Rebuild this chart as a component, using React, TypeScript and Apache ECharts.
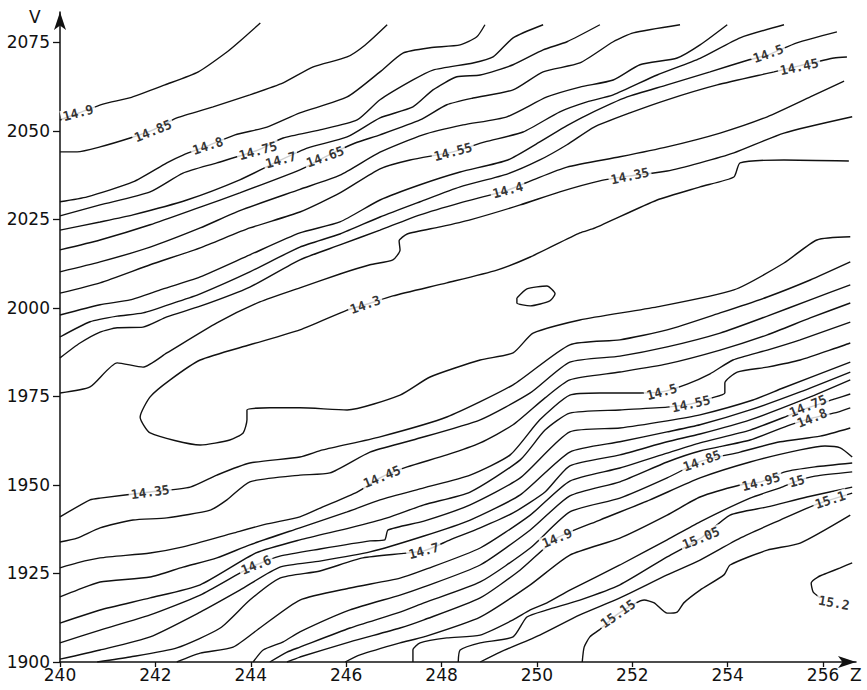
import { useEffect, useRef } from 'react';
import * as echarts from 'echarts';

const zTicks = [240, 242, 244, 246, 248, 250, 252, 254, 256];
const vTicks = [1900, 1925, 1950, 1975, 2000, 2025, 2050, 2075];

// upper family (Z, V)
const c1490 = [[240,2053.1],[240.4,2055.1],[240.9,2057.6],[241.5,2059.5],[242.2,2063.0],[242.9,2066.7],[243.5,2072.3],[243.8,2075.7],[244.2,2080.5]];
const c1485 = [[240,2044.1],[240.36,2044.1],[240.84,2045.5],[241.47,2048.0],[241.95,2050.3],[242.45,2053.7],[243.21,2056.8],[243.98,2060.2],[244.68,2063.6],[245.31,2068.1],[246.02,2070.9],[246.4,2074.3],[246.86,2080.0]];
const c1480 = [[240,2030.0],[240.57,2031.4],[241.53,2035.6],[242.24,2041.0],[242.58,2043.2],[243.1,2045.8],[243.67,2048.9],[244.34,2051.1],[245.03,2055.1],[246.02,2059.6],[246.71,2066.7],[247.19,2072.0],[247.76,2073.5],[248.39,2074.3],[248.74,2076.6],[248.91,2080.0]];
const c1475 = [[240,2026.0],[240.84,2029.1],[241.89,2032.8],[242.58,2038.1],[243.29,2041.0],[244.15,2044.6],[244.68,2048.0],[245.45,2050.3],[246.23,2053.1],[246.71,2058.8],[247.4,2064.4],[247.82,2067.2],[248.66,2069.2],[249.08,2070.9],[249.5,2076.3],[250.13,2080.0]];
const c1470 = [[240,2022.0],[240.84,2024.3],[241.53,2026.3],[242.66,2030.5],[243.77,2036.2],[244.63,2041.8],[245.2,2045.2],[246.02,2048.3],[246.71,2053.7],[247.4,2056.8],[247.82,2061.6],[248.32,2065.3],[248.81,2065.8],[249.5,2068.7],[250.13,2072.9],[250.63,2075.2],[251.32,2080.0]];
const c1465 = [[240,2016.4],[240.84,2019.2],[241.89,2023.5],[242.94,2028.5],[243.77,2032.5],[245.03,2039.0],[245.56,2042.7],[246.19,2046.6],[246.71,2048.9],[247.55,2053.1],[248.11,2057.4],[248.66,2059.3],[249.5,2061.6],[250.13,2066.7],[250.9,2069.2],[251.6,2075.2],[252.02,2077.7],[253.0,2080.0]];
const c1460 = [[240,2010.2],[240.84,2013.0],[241.89,2017.2],[242.94,2022.6],[243.77,2027.5],[245.03,2033.5],[245.87,2037.5],[246.71,2044.0],[247.61,2048.9],[248.45,2051.7],[249.37,2054.0],[250.21,2059.6],[250.9,2062.4],[251.6,2064.4],[252.16,2068.7],[252.94,2070.6],[253.42,2074.3],[253.99,2080.0]];
const c1455 = [[240,2004.2],[240.84,2007.1],[241.89,2012.2],[242.94,2017.0],[243.98,2022.6],[245.03,2027.1],[245.87,2032.5],[246.71,2039.3],[247.34,2041.8],[248.24,2044.1],[248.91,2046.9],[249.71,2049.7],[250.48,2055.4],[251.05,2058.2],[251.6,2060.2],[252.52,2065.8],[253.42,2070.5],[254.26,2076.3],[255.18,2080.0]];
const c1450 = [[240,1998.0],[240.84,2000.9],[241.47,2002.3],[242.1,2005.1],[242.94,2008.8],[243.98,2015.0],[245.03,2021.2],[245.87,2024.3],[246.71,2030.5],[247.55,2034.8],[248.39,2038.4],[249.39,2041.8],[250.06,2046.9],[250.63,2051.5],[251.05,2054.5],[251.89,2059.6],[252.73,2063.0],[253.63,2066.7],[254.45,2070.1],[254.85,2071.5],[255.45,2074.9],[256.29,2078.0]];
const c1445 = [[240,1991.8],[240.63,1996.1],[241.2,1997.7],[241.74,1998.6],[242.45,2001.7],[242.94,2004.0],[243.98,2010.2],[245.03,2017.2],[245.87,2020.9],[246.71,2025.7],[247.55,2030.0],[248.39,2034.2],[249.39,2037.9],[250.06,2041.8],[250.63,2046.1],[251.2,2051.1],[251.95,2055.1],[252.73,2058.8],[253.78,2063.0],[254.97,2066.7],[255.5,2068.4],[256.23,2070.6],[256.5,2070.9]];
const c1440 = [[240,1985.9],[240.42,1990.1],[240.84,1993.2],[241.2,1994.4],[241.74,1994.6],[242.24,1997.5],[242.94,2000.5],[243.98,2005.9],[245.03,2013.6],[245.87,2017.8],[246.71,2022.0],[247.55,2026.3],[248.39,2029.7],[249.39,2033.3],[249.92,2036.2],[250.63,2039.8],[251.74,2042.7],[252.73,2045.5],[253.84,2049.4],[254.83,2054.0],[255.73,2059.6],[256.44,2064.1]];
const c1435a = [[240,1976.0],[240.63,1977.7],[241.2,1984.5],[241.74,1983.3],[242.24,1987.3],[243.29,1995.8],[244.19,2001.7],[245.03,2005.7],[245.87,2009.6],[246.5,2012.2],[246.98,2013.6],[247.13,2016.4],[247.11,2018.9],[247.28,2020.9],[247.97,2022.9],[248.6,2024.9],[249.65,2029.1],[250.48,2032.8],[251.32,2035.9],[251.95,2037.3],[252.73,2038.7],[253.42,2041.0],[254.13,2043.8],[255.18,2049.4],[256.61,2054.0]];
const c1430 = [[256.54,2041.5],[255.18,2041.8],[254.26,2041.0],[254.13,2037.0],[253.42,2034.2],[252.52,2030.5],[251.22,2022.6],[250.9,2021.2],[249.86,2014.4],[249.16,2010.7],[248.11,2007.1],[246.98,2003.4],[246.4,2000.9],[246.02,1999.4],[245.03,1993.8],[243.98,1989.6],[242.94,1985.3],[242.31,1979.7],[241.89,1974.9],[241.68,1969.2],[241.89,1964.7],[242.94,1961.3],[243.56,1962.7],[243.84,1964.7],[243.92,1968.4],[243.92,1971.2],[244.4,1971.8],[245.03,1971.8],[246.02,1971.2],[247.13,1975.4],[247.76,1980.5],[248.81,1985.3],[249.5,1987.3],[249.92,1992.9],[250.9,1996.6],[252.52,2000.3],[254.13,2005.1],[255.18,2012.7],[255.87,2019.2],[256.57,2020.1]];
const c1425 = [[249.58,2002.8],[249.79,2005.4],[250.21,2006.2],[250.38,2004.0],[250.27,2002.0],[249.86,2000.6],[249.58,2001.4],[249.58,2002.8]];

// lower family (Z, V)
const c1435b = [[240,1941.0],[240.63,1945.8],[240.84,1946.3],[241.89,1948.0],[242.73,1949.4],[243.29,1952.8],[243.98,1956.2],[245.03,1957.9],[245.51,1959.9],[246.71,1963.6],[248.11,1969.2],[249.5,1978.3],[250.69,1989.6],[251.74,1991.0],[252.73,1993.8],[253.84,1998.6],[254.83,2003.1],[255.73,2007.9],[256.57,2013.0]];
const c1440b = [[240,1933.9],[240.36,1935.0],[240.84,1937.9],[241.53,1940.1],[242.24,1940.7],[243.15,1942.9],[243.5,1945.8],[243.98,1950.9],[245.03,1952.8],[245.66,1953.4],[246.5,1959.3],[247.4,1962.7],[248.81,1968.4],[249.86,1976.0],[250.69,1984.7],[251.74,1986.4],[252.73,1989.0],[253.84,1992.9],[254.83,1997.7],[255.73,2002.3],[256.57,2006.5]];
const c1445b = [[240,1926.6],[240.36,1928.0],[240.84,1929.4],[241.89,1930.8],[242.58,1932.5],[243.63,1936.4],[244.34,1939.0],[245.03,1941.0],[245.51,1943.8],[246.23,1948.0],[246.75,1952.3],[247.28,1955.1],[248.11,1958.5],[248.81,1961.9],[249.5,1967.0],[250.17,1974.6],[250.69,1979.7],[251.74,1981.9],[252.73,1984.2],[253.84,1988.1],[254.83,1992.4],[255.73,1997.2],[256.57,2001.4]];
const c1450b = [[240,1918.4],[240.36,1920.3],[240.84,1922.6],[241.89,1924.0],[242.58,1926.8],[243.29,1929.4],[243.98,1933.1],[245.03,1937.9],[246.02,1942.4],[246.71,1945.8],[247.63,1949.2],[248.6,1952.8],[249.44,1958.5],[250.06,1968.4],[250.69,1975.4],[251.32,1976.0],[252.16,1976.0],[252.62,1976.3],[253.15,1978.5],[253.63,1981.4],[254.11,1985.3],[254.83,1988.1],[255.52,1991.0],[256.57,1996.0]];
const c1455b = [[240,1911.0],[240.84,1914.7],[241.89,1918.1],[242.94,1921.8],[244.11,1930.8],[245.03,1934.5],[246.08,1937.9],[246.86,1940.7],[247.63,1944.4],[248.6,1948.0],[249.65,1957.1],[250.17,1965.5],[250.69,1970.3],[251.74,1971.2],[252.73,1972.0],[253.23,1972.9],[253.67,1974.6],[253.94,1976.0],[253.94,1978.8],[254.2,1981.9],[254.83,1983.3],[255.52,1985.3],[256.57,1990.1]];
const c1460b = [[240,1905.4],[240.84,1909.0],[241.89,1913.3],[242.94,1918.9],[243.77,1925.1],[244.11,1927.4],[244.61,1929.9],[245.45,1931.9],[246.5,1934.2],[246.81,1934.5],[246.88,1937.3],[247.63,1939.8],[248.6,1944.4],[249.65,1952.0],[250.69,1965.0],[251.74,1966.1],[252.73,1968.1],[253.42,1969.8],[254.53,1974.0],[255.16,1977.4],[256.57,1984.7]];
const c1465b = [[240,1900.8],[240.84,1903.4],[241.89,1907.1],[242.94,1914.1],[243.77,1920.3],[244.61,1926.8],[245.45,1928.5],[246.5,1931.1],[247.63,1935.6],[248.6,1940.1],[249.65,1947.2],[250.69,1959.3],[251.74,1962.2],[252.73,1965.0],[253.42,1967.0],[254.47,1971.2],[255.52,1976.3],[256.57,1981.9]];
const c1470b = [[240.78,1900],[241.47,1901.4],[242.45,1904.0],[243.36,1909.6],[243.98,1917.5],[244.61,1923.7],[245.45,1925.7],[246.35,1929.4],[247.63,1931.4],[248.18,1934.5],[248.81,1937.9],[249.5,1942.1],[250.17,1948.0],[250.69,1955.4],[251.74,1958.5],[252.73,1962.2],[253.42,1964.4],[254.47,1968.4],[255.68,1974.6],[256.57,1979.7]];
const c1475b = [[242.45,1900],[242.94,1902.5],[243.63,1904.2],[244.19,1909.6],[245.03,1917.5],[246.08,1920.9],[247.13,1923.7],[247.63,1926.0],[248.81,1932.2],[249.86,1941.5],[250.69,1951.1],[251.74,1954.8],[252.73,1959.0],[253.42,1961.9],[254.47,1965.5],[255.31,1969.8],[255.68,1971.8],[256.25,1974.3],[256.57,1975.7]];
const c1480b = [[244.05,1900],[244.26,1903.4],[244.68,1905.7],[245.03,1908.5],[246.08,1914.7],[247.13,1918.9],[247.63,1921.2],[248.81,1927.4],[249.86,1937.3],[250.69,1946.9],[251.74,1950.9],[252.73,1956.5],[253.42,1959.6],[254.47,1962.7],[255.31,1967.0],[255.77,1968.9],[256.31,1970.6],[256.57,1971.8]];
const c1485b = [[244.4,1900],[244.76,1902.8],[245.03,1904.2],[246.08,1909.6],[247.13,1914.1],[247.63,1916.7],[248.81,1922.6],[249.86,1932.2],[250.69,1942.4],[251.74,1946.3],[252.73,1952.0],[253.46,1956.8],[254.26,1959.3],[255.1,1962.2],[255.94,1963.8],[256.57,1966.1]];
const c1490b = [[244.76,1900],[245.03,1901.4],[246.08,1905.7],[247.13,1909.6],[247.63,1911.9],[248.81,1918.1],[249.65,1926.0],[250.42,1935.0],[251.32,1940.1],[252.37,1945.8],[253.42,1952.0],[254.47,1956.5],[255.52,1959.9],[256.04,1961.0],[256.36,1960.5],[256.61,1957.9]];
const c1495 = [[245.98,1900],[246.29,1902.0],[247.13,1905.4],[247.63,1907.1],[248.81,1912.7],[249.86,1921.8],[250.69,1930.2],[251.74,1935.0],[252.73,1941.5],[253.42,1946.6],[254.26,1950.0],[254.7,1950.9],[255.2,1953.7],[255.83,1955.1],[256.61,1956.2]];
const c1500 = [[247.4,1900],[247.4,1903.4],[247.55,1905.4],[248.11,1906.8],[248.81,1907.6],[249.5,1911.9],[249.86,1914.7],[250.21,1916.7],[250.69,1920.3],[251.74,1927.4],[252.73,1934.5],[253.42,1939.6],[254.47,1946.3],[255.1,1949.2],[255.45,1951.1],[255.83,1952.5],[256.61,1953.7]];
const c1505 = [[248.35,1900],[248.39,1903.4],[248.81,1905.4],[249.5,1907.1],[249.79,1912.7],[250.21,1914.7],[250.9,1917.5],[251.74,1921.8],[252.73,1929.7],[253.44,1935.0],[254.05,1941.5],[254.83,1943.8],[255.66,1946.6],[256.61,1949.4]];
const c1510 = [[248.81,1900],[249.23,1902.8],[250.06,1907.6],[250.9,1913.3],[251.74,1918.1],[252.73,1924.6],[253.42,1928.8],[254.26,1935.0],[255.1,1940.1],[255.83,1944.4],[256.15,1945.8],[256.61,1947.7]];
const c1515 = [[250.95,1900],[250.99,1904.2],[251.11,1907.1],[251.3,1909.0],[251.7,1913.6],[252.25,1917.5],[252.46,1916.7],[252.73,1913.8],[252.94,1914.1],[253.08,1916.7],[253.42,1920.3],[253.92,1924.6],[254.05,1927.4],[254.83,1931.6],[255.52,1933.6],[256.57,1941.5]];
const c1520 = [[255.94,1918.1],[255.79,1919.8],[255.75,1922.3],[255.89,1924.0],[256.08,1925.1],[256.36,1926.6],[256.61,1928.0]];

const contours = [
  c1490, c1485, c1480, c1475, c1470, c1465, c1460, c1455, c1450, c1445, c1440, c1435a, c1430, c1425,
  c1435b, c1440b, c1445b, c1450b, c1455b, c1460b, c1465b, c1470b, c1475b, c1480b, c1485b, c1490b,
  c1495, c1500, c1505, c1510, c1515, c1520,
];

const labelTexts = ['14.9','14.85','14.8','14.75','14.7','14.65','14.55','14.4','14.35','14.5','14.45','14.3',
  '14.35','14.45','14.6','14.7','14.9','14.5','14.55','14.75','14.8','14.85','14.95','15','15.05','15.1','15.15','15.2'];
const labelPoints = [[240.38,2055.1],[241.95,2050.0],[243.1,2045.8],[244.15,2044.4],[244.63,2041.8],[245.56,2042.7],[248.24,2044.1],[249.39,2033.3],[251.95,2037.3],[254.85,2071.8],[255.5,2068.1],[246.4,2000.9],
  [241.89,1948.0],[246.75,1952.3],[244.11,1927.4],[247.63,1931.4],[250.42,1935.0],[252.62,1976.3],[253.23,1972.9],[255.68,1972.3],[255.77,1968.9],[253.46,1956.8],[254.7,1950.9],[255.45,1951.1],[253.44,1935.0],[256.15,1945.8],[251.7,1913.6],[256.23,1916.7]];
const labelAngles = [15,22,18,15,15,20,15,15,12,20,12,20, 8,22,22,15,22,15,12,22,22,20,15,15,22,18,35,-10];

export default function App() {
  const ref = useRef<HTMLDivElement>(null);
  useEffect(() => {
    const chart = echarts.init(ref.current as HTMLDivElement, null, { renderer: 'svg' });
    const lineSeries = contours.map((c) => ({
      type: 'line',
      data: c,
      showSymbol: false,
      symbol: 'none',
      smooth: 0.2,
      silent: true,
      z: 2,
      lineStyle: { color: '#111', width: 1.4 },
    }));
    const labelSeries = {
      type: 'scatter',
      symbolSize: 1,
      z: 5,
      silent: true,
      itemStyle: { color: 'rgba(0,0,0,0)' },
      label: {
        show: true,
        position: 'inside',
        formatter: '{b}',
        fontFamily: 'DejaVu Sans Mono',
        fontSize: 13,
        fontWeight: 'bold',
        color: '#000',
        backgroundColor: '#fff',
        padding: [0, 2],
      },
      data: labelTexts.map((t, i) => ({ name: t, value: labelPoints[i], label: { rotate: labelAngles[i] } })),
    };
    const tickFont = { fontSize: 17, fontFamily: 'DejaVu Sans', color: '#111' };
    chart.setOption({
      animation: false,
      grid: { left: 60, right: 11, top: 12, bottom: 28, outerBoundsMode: 'none' },
      xAxis: {
        type: 'value', min: 240, max: 256.69, interval: 2,
        axisLine: { onZero: false, symbol: ['none', 'arrow'], symbolSize: [9, 18], lineStyle: { color: '#111', width: 1.5 } },
        axisTick: { show: true, length: 5, customValues: zTicks, lineStyle: { color: '#111', width: 1.3 } },
        axisLabel: { ...tickFont, margin: 4, customValues: zTicks, formatter: (v: number) => (zTicks.includes(v) ? String(v) : '') },
        splitLine: { show: false },
      },
      yAxis: {
        type: 'value', min: 1900, max: 2083.6, interval: 25,
        axisLine: { onZero: false, symbol: ['none', 'arrow'], symbolSize: [9, 18], lineStyle: { color: '#111', width: 1.5 } },
        axisTick: { show: true, length: 7, customValues: vTicks, lineStyle: { color: '#111', width: 1.3 } },
        axisLabel: { ...tickFont, margin: 10, customValues: vTicks, formatter: (v: number) => (vTicks.includes(v) ? String(v) : '') },
        splitLine: { show: false },
      },
      graphic: [
        { type: 'text', left: 29, top: 8, style: { text: 'V', font: '17px "DejaVu Sans"', fill: '#111' } },
        { type: 'text', left: 850, top: 666, style: { text: 'Z', font: '17px "DejaVu Sans"', fill: '#111' } },
      ],
      series: [...lineSeries, labelSeries],
    });
    return () => chart.dispose();
  }, []);
  return <div ref={ref} style={{ position: 'absolute', left: 0, top: 0, width: 867, height: 690 }} />;
}
